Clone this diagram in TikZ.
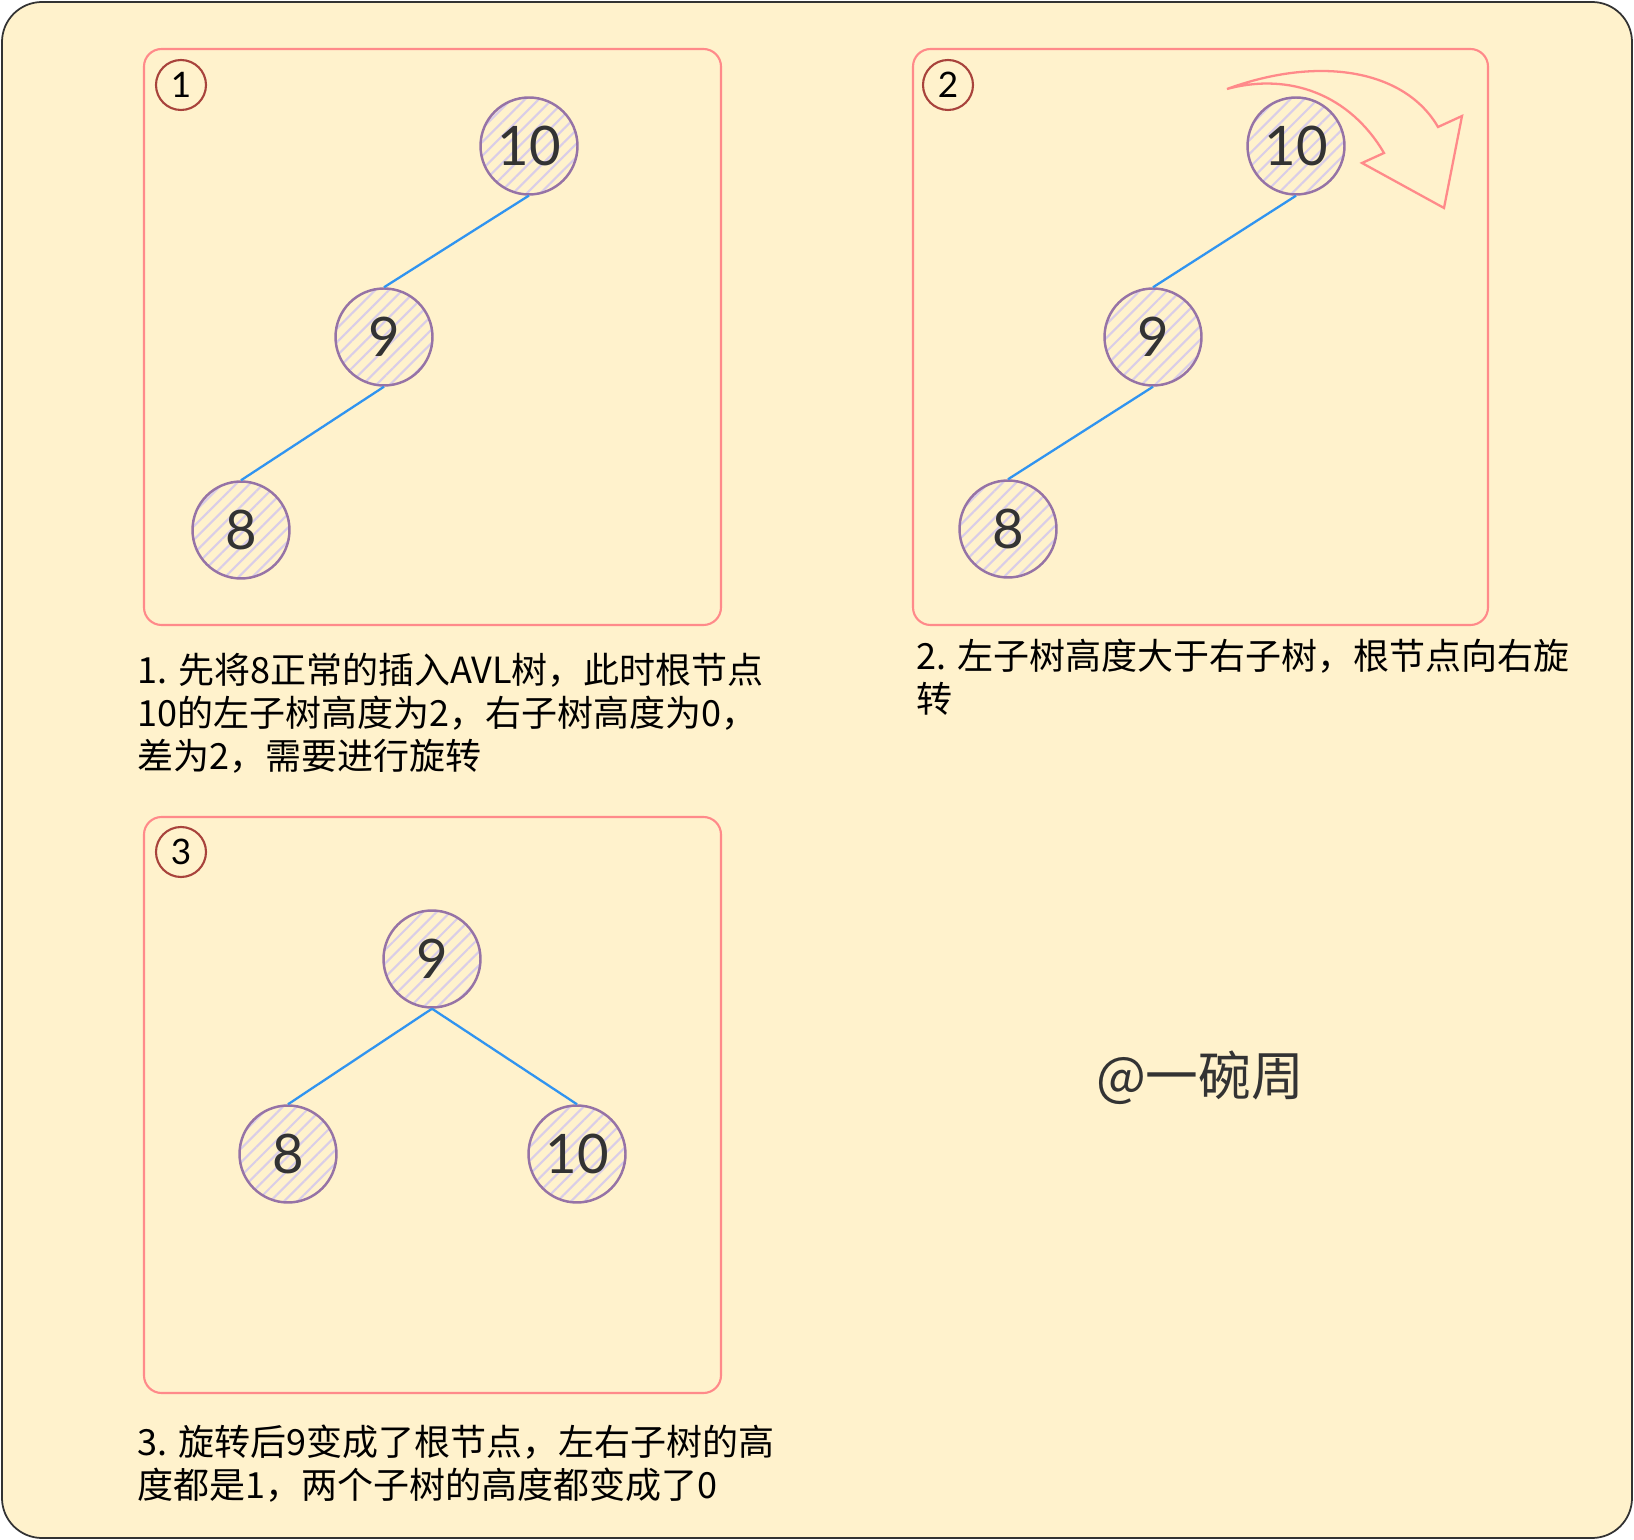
\documentclass[tikz,border=0pt]{standalone}
\usepackage{fontspec}
\setmainfont{Liberation Sans}
\newfontfamily\cjk{Noto Sans CJK SC}
\newfontfamily\numfont{Lato}
\usetikzlibrary{patterns.meta}
\definecolor{bgyellow}{HTML}{FFF2CC}
\definecolor{framegray}{HTML}{333333}
\definecolor{panelred}{HTML}{FF8A8A}
\definecolor{tagred}{HTML}{A8433C}
\definecolor{nodepurple}{HTML}{9673A6}
\definecolor{hatchpurple}{HTML}{D9CDE8}
\definecolor{edgeblue}{HTML}{3094F0}
\definecolor{textgray}{HTML}{333333}
\tikzset{
  panel/.style={draw=panelred, line width=1.2pt, rounded corners=10pt},
  tag/.style={circle, draw=tagred, line width=1.2pt, minimum size=1cm, inner sep=0pt,
    font=\numfont\fontsize{20pt}{20pt}\selectfont},
  tnode/.style={circle, draw=nodepurple, line width=1.4pt, minimum size=1.94cm, inner sep=0pt,
    pattern={Lines[angle=45,distance=5.5pt,line width=1.2pt]}, pattern color=hatchpurple,
    text=textgray, font=\numfont\fontsize{31pt}{31pt}\selectfont},
  edge/.style={draw=edgeblue, line width=1.3pt},
  caption/.style={anchor=north west, align=left, inner sep=0pt, text=black,
    font=\cjk\fontsize{20.5pt}{24.4pt}\selectfont},
}
\begin{document}
\begin{tikzpicture}[x=0.02cm,y=-0.02cm]
    \useasboundingbox (0,0) rectangle (1634,1540);
    \draw[framegray, line width=1pt, fill=bgyellow, rounded corners=0.8cm] (2,2) rectangle (1632,1538);

    % panel 1
    \draw[panel] (144,49) rectangle (721,625);
    \node[tag] (t1) at (181,85) {1};
    \node[tnode] (a10) at (529,146) {10};
    \node[tnode] (a9) at (384,337) {9};
    \node[tnode] (a8) at (241,530) {8};
    \draw[edge] (a10.south) -- (a9.north);
    \draw[edge] (a9.south) -- (a8.north);
    \node[caption] (c1) at (137,653) {1. 先将8正常的插入AVL树，此时根节点\\10的左子树高度为2，右子树高度为0，\\差为2，需要进行旋转};

    % panel 2
    \draw[panel] (913,49) rectangle (1488,625);
    \node[tag] (t2) at (948,85) {2};
    \node[tnode] (b10) at (1296,146) {10};
    \node[tnode] (b9) at (1153,337) {9};
    \node[tnode] (b8) at (1008,529) {8};
    \draw[edge] (b10.south) -- (b9.north);
    \draw[edge] (b9.south) -- (b8.north);
    \draw[panelred, line width=1.3pt, line join=miter]
        (1227,89) .. controls (1320,55) and (1405,70) .. (1438,127) -- (1462,116) -- (1444,208)
        -- (1362,163) -- (1384,153) .. controls (1350,95) and (1290,72) .. (1227,89) -- cycle;
    \node[caption] (c2) at (916,639) {2. 左子树高度大于右子树，根节点向右旋\\转};

    % panel 3
    \draw[panel] (144,817) rectangle (721,1393);
    \node[tag] (t3) at (181,852) {3};
    \node[tnode] (c9) at (432,959) {9};
    \node[tnode] (c8) at (288,1154) {8};
    \node[tnode] (c10) at (577,1154) {10};
    \draw[edge] (c9.south) -- (c8.north);
    \draw[edge] (c9.south) -- (c10.north);
    \node[caption] (c3) at (137,1425) {3. 旋转后9变成了根节点，左右子树的高\\度都是1，两个子树的高度都变成了0};

    \node[text=textgray, font=\cjk\fontsize{30pt}{30pt}\selectfont] (mark) at (1200,1078) {@一碗周};
\end{tikzpicture}
\end{document}
